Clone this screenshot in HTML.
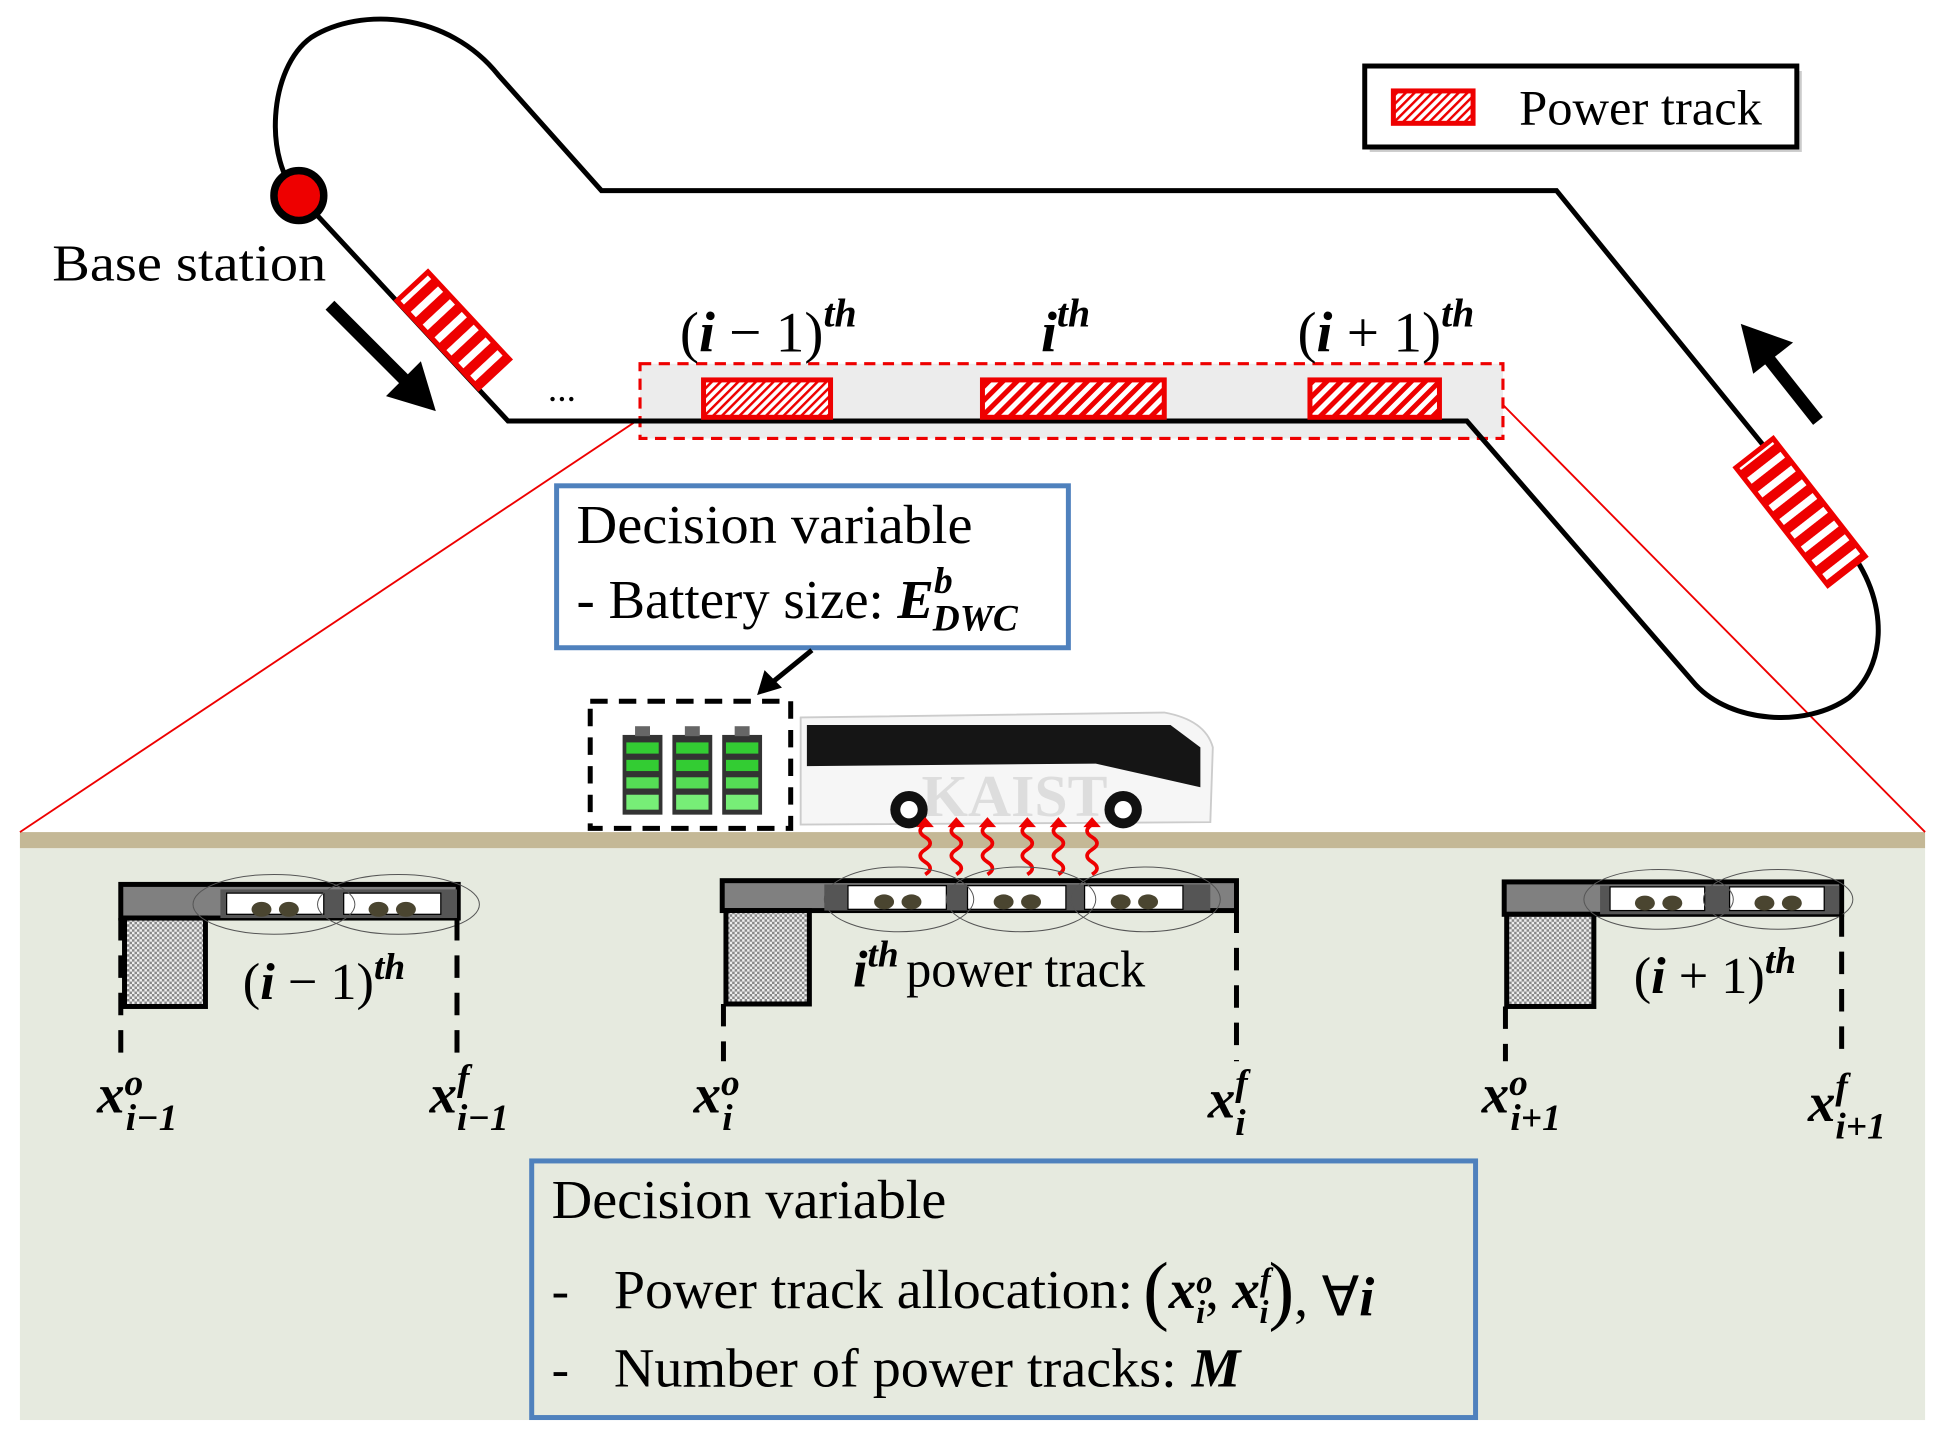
<!DOCTYPE html>
<html><head><meta charset="utf-8"><style>
html,body{margin:0;padding:0;background:#fff;width:1945px;height:1430px;overflow:hidden}
svg{display:block}
text{font-family:"Liberation Serif",serif}
.m{font-style:italic;font-weight:bold}
</style></head><body>
<svg width="1945" height="1430" viewBox="0 0 1562 1148" preserveAspectRatio="none" xmlns="http://www.w3.org/2000/svg">
<defs>
<pattern id="h" width="8" height="8" patternUnits="userSpaceOnUse" patternTransform="rotate(45)">
<rect width="8" height="8" fill="#fff"/><rect width="4" height="8" fill="#e00"/></pattern>
<pattern id="h2" width="5" height="5" patternUnits="userSpaceOnUse" patternTransform="rotate(45)">
<rect width="5" height="5" fill="#fff"/><rect width="2" height="5" fill="#e00"/></pattern>
<pattern id="hs" width="14" height="14" patternUnits="userSpaceOnUse">
<rect width="14" height="14" fill="#fff"/><rect width="8" height="14" fill="#e00"/></pattern>
<pattern id="ck" width="4" height="4" patternUnits="userSpaceOnUse">
<rect width="4" height="4" fill="#eee"/><rect width="2" height="2" fill="#888"/><rect x="2" y="2" width="2" height="2" fill="#888"/></pattern>
</defs>

<rect x="16" y="668" width="1530" height="13" fill="#c4b896"/>
<rect x="16" y="681" width="1530" height="459" fill="#e6eadf"/>

<line x1="514" y1="336" x2="16" y2="668" stroke="#e00" stroke-width="1.5"/>
<line x1="1207" y1="325" x2="1546" y2="668" stroke="#e00" stroke-width="1.5"/>

<rect x="514" y="292" width="693" height="60" fill="#ececec" stroke="#e00" stroke-width="2.5" stroke-dasharray="9,6"/>

<path d="M240 157 L408 338 L1178 338 L1362 550 C1390 580 1450 585 1485 560 C1520 530 1515 470 1475 430 L1250 153 L483 153 L400 60 C360 10 290 5 250 30 C215 55 212 130 240 157" fill="none" stroke="#000" stroke-width="4"/>
<circle cx="240" cy="157" r="20" fill="#e00" stroke="#000" stroke-width="6"/>
<text x="42" y="225" font-size="42" textLength="220" lengthAdjust="spacingAndGlyphs">Base station</text>

<g transform="translate(364,265) rotate(47)"><rect x="-48" y="-17" width="96" height="34" fill="url(#hs)" stroke="#e00" stroke-width="4"/></g>
<g transform="translate(1446,411) rotate(52)"><rect x="-60" y="-19" width="120" height="38" fill="url(#hs)" stroke="#e00" stroke-width="4"/></g>

<line x1="265" y1="245" x2="330" y2="310" stroke="#000" stroke-width="10"/>
<path d="M350 330 L310 318 L338 290 Z" fill="#000"/>
<line x1="1460" y1="338" x2="1418" y2="285" stroke="#000" stroke-width="10"/>
<path d="M1398 260 L1440 275 L1408 300 Z" fill="#000"/>

<text x="440" y="322" font-size="30">...</text>

<rect x="565" y="305" width="102" height="30" fill="url(#h2)" stroke="#e00" stroke-width="4"/>
<rect x="789" y="305" width="146" height="30" fill="url(#h)" stroke="#e00" stroke-width="4"/>
<rect x="1052" y="305" width="104" height="30" fill="url(#h)" stroke="#e00" stroke-width="4"/>

<text x="546" y="282" font-size="46">(<tspan class="m">i</tspan> − 1)<tspan class="m" font-size="32" dy="-20">th</tspan></text>
<text x="836" y="282" font-size="46"><tspan class="m">i</tspan><tspan class="m" font-size="32" dy="-20">th</tspan></text>
<text x="1042" y="282" font-size="46">(<tspan class="m">i</tspan> + 1)<tspan class="m" font-size="32" dy="-20">th</tspan></text>

<rect x="1100" y="57" width="347" height="65" fill="#999" opacity=".5"/>
<rect x="1096" y="53" width="347" height="65" fill="#fff" stroke="#000" stroke-width="4"/>
<rect x="1119" y="73" width="64" height="26" fill="url(#h2)" stroke="#e00" stroke-width="4"/>
<text x="1220" y="100" font-size="40" textLength="195" lengthAdjust="spacingAndGlyphs">Power track</text>

<rect x="447" y="390" width="411" height="130" fill="#fff" stroke="#4f81bd" stroke-width="4"/>
<text x="463" y="436" font-size="44" textLength="318" lengthAdjust="spacingAndGlyphs">Decision variable</text>
<text x="463" y="496" font-size="44">- Battery size: <tspan class="m">E</tspan><tspan class="m" font-size="30" dy="-20">b</tspan><tspan class="m" font-size="30" dx="-16" dy="30">DWC</tspan></text>
<line x1="652" y1="522" x2="620" y2="548" stroke="#000" stroke-width="4"/>
<path d="M608 558 L614 538 L628 552 Z" fill="#000"/>

<rect x="474" y="563" width="161" height="102" fill="#fff" stroke="#000" stroke-width="4" stroke-dasharray="14,9"/>
<g>
<rect x="500" y="590" width="32" height="64" fill="#333"/><rect x="510" y="583" width="12" height="8" fill="#666"/>
<rect x="503" y="596" width="26" height="9" fill="#3c3"/><rect x="503" y="610" width="26" height="9" fill="#3c3"/><rect x="503" y="624" width="26" height="9" fill="#5d5"/><rect x="503" y="638" width="26" height="12" fill="#7e7"/>
<rect x="540" y="590" width="32" height="64" fill="#333"/><rect x="550" y="583" width="12" height="8" fill="#666"/>
<rect x="543" y="596" width="26" height="9" fill="#3c3"/><rect x="543" y="610" width="26" height="9" fill="#3c3"/><rect x="543" y="624" width="26" height="9" fill="#5d5"/><rect x="543" y="638" width="26" height="12" fill="#7e7"/>
<rect x="580" y="590" width="32" height="64" fill="#333"/><rect x="590" y="583" width="12" height="8" fill="#666"/>
<rect x="583" y="596" width="26" height="9" fill="#3c3"/><rect x="583" y="610" width="26" height="9" fill="#3c3"/><rect x="583" y="624" width="26" height="9" fill="#5d5"/><rect x="583" y="638" width="26" height="12" fill="#7e7"/>
</g>

<path d="M643 576 L935 572 Q968 578 974 600 L972 660 L643 662 Z" fill="#f6f6f6" stroke="#ccc" stroke-width="1.5"/>
<path d="M648 582 L940 582 L964 600 L964 632 L880 613 L648 615 Z" fill="#151515"/>
<text x="740" y="655" font-size="48" font-weight="bold" fill="#ddd" font-family="Liberation Sans, sans-serif">KAIST</text>
<circle cx="730" cy="650" r="15" fill="#111"/><circle cx="730" cy="650" r="7" fill="#fff"/>
<circle cx="902" cy="650" r="15" fill="#111"/><circle cx="902" cy="650" r="7" fill="#fff"/>

<g fill="none" stroke="#e00" stroke-width="3">
<path d="M743 702 q8 -5 0 -10 q-8 -5 0 -10 q8 -5 0 -10 q-8 -5 0 -10"/>
<path d="M768 702 q8 -5 0 -10 q-8 -5 0 -10 q8 -5 0 -10 q-8 -5 0 -10"/>
<path d="M793 702 q8 -5 0 -10 q-8 -5 0 -10 q8 -5 0 -10 q-8 -5 0 -10"/>
<path d="M825 702 q8 -5 0 -10 q-8 -5 0 -10 q8 -5 0 -10 q-8 -5 0 -10"/>
<path d="M850 702 q8 -5 0 -10 q-8 -5 0 -10 q8 -5 0 -10 q-8 -5 0 -10"/>
<path d="M877 702 q8 -5 0 -10 q-8 -5 0 -10 q8 -5 0 -10 q-8 -5 0 -10"/>
</g>
<g fill="#e00"><path d="M736 664 l7 -8 l7 8z"/><path d="M761 664 l7 -8 l7 8z"/><path d="M786 664 l7 -8 l7 8z"/><path d="M818 664 l7 -8 l7 8z"/><path d="M843 664 l7 -8 l7 8z"/><path d="M870 664 l7 -8 l7 8z"/></g>

<g stroke="#000">
<rect x="97" y="710" width="271" height="27" fill="#808080" stroke-width="4"/>
<rect x="177" y="714" width="190" height="23" fill="#555" stroke="none"/>
<rect x="182" y="717" width="78" height="17" fill="#fff" stroke-width="1"/><rect x="276" y="717" width="78" height="17" fill="#fff" stroke-width="1"/>
<rect x="100" y="737" width="65" height="71" fill="url(#ck)" stroke-width="4"/>

<rect x="580" y="707" width="413" height="24" fill="#808080" stroke-width="4"/>
<rect x="662" y="710" width="310" height="21" fill="#555" stroke="none"/>
<rect x="681" y="711" width="79" height="19" fill="#fff" stroke-width="1"/><rect x="777" y="711" width="79" height="19" fill="#fff" stroke-width="1"/><rect x="871" y="711" width="79" height="19" fill="#fff" stroke-width="1"/>
<rect x="583" y="731" width="67" height="75" fill="url(#ck)" stroke-width="4"/>

<rect x="1208" y="708" width="271" height="26" fill="#808080" stroke-width="4"/>
<rect x="1285" y="711" width="192" height="23" fill="#555" stroke="none"/>
<rect x="1293" y="712" width="76" height="19" fill="#fff" stroke-width="1"/><rect x="1389" y="712" width="76" height="19" fill="#fff" stroke-width="1"/>
<rect x="1210" y="734" width="70" height="74" fill="url(#ck)" stroke-width="4"/>
</g>
<g fill="#4a4530">
<ellipse cx="210" cy="730" rx="8" ry="6"/><ellipse cx="232" cy="730" rx="8" ry="6"/><ellipse cx="304" cy="730" rx="8" ry="6"/><ellipse cx="326" cy="730" rx="8" ry="6"/>
<ellipse cx="710" cy="724" rx="8" ry="6"/><ellipse cx="732" cy="724" rx="8" ry="6"/><ellipse cx="806" cy="724" rx="8" ry="6"/><ellipse cx="828" cy="724" rx="8" ry="6"/><ellipse cx="900" cy="724" rx="8" ry="6"/><ellipse cx="922" cy="724" rx="8" ry="6"/>
<ellipse cx="1321" cy="725" rx="8" ry="6"/><ellipse cx="1343" cy="725" rx="8" ry="6"/><ellipse cx="1417" cy="725" rx="8" ry="6"/><ellipse cx="1439" cy="725" rx="8" ry="6"/>
</g>
<g fill="none" stroke="#555" stroke-width="0.8">
<ellipse cx="220" cy="726" rx="65" ry="24"/><ellipse cx="320" cy="726" rx="65" ry="24"/>
<ellipse cx="722" cy="722" rx="60" ry="26"/><ellipse cx="820" cy="722" rx="60" ry="26"/><ellipse cx="920" cy="722" rx="60" ry="26"/>
<ellipse cx="1332" cy="722" rx="60" ry="24"/><ellipse cx="1428" cy="722" rx="60" ry="24"/>
</g>
<g stroke="#000" stroke-width="4" stroke-dasharray="18,12">
<line x1="97" y1="737" x2="97" y2="852"/><line x1="367" y1="737" x2="367" y2="852"/>
<line x1="581" y1="806" x2="581" y2="852"/><line x1="993" y1="731" x2="993" y2="852"/>
<line x1="1209" y1="808" x2="1209" y2="852"/><line x1="1479" y1="734" x2="1479" y2="852"/>
</g>

<text x="195" y="802" font-size="42">(<tspan class="m">i</tspan> − 1)<tspan class="m" font-size="30" dy="-16">th</tspan></text>
<text x="685" y="792" font-size="42"><tspan class="m">i</tspan><tspan class="m" font-size="30" dy="-16">th</tspan><tspan dy="16" dx="6" textLength="192" lengthAdjust="spacingAndGlyphs">power track</tspan></text>
<text x="1312" y="797" font-size="42">(<tspan class="m">i</tspan> + 1)<tspan class="m" font-size="30" dy="-16">th</tspan></text>

<g font-size="44">
<text x="78" y="893"><tspan class="m">x</tspan><tspan class="m" font-size="30" dy="-14">o</tspan><tspan class="m" font-size="30" dx="-14" dy="28">i−1</tspan></text>
<text x="345" y="893"><tspan class="m">x</tspan><tspan class="m" font-size="30" dy="-18">f</tspan><tspan class="m" font-size="30" dx="-10" dy="32">i−1</tspan></text>
<text x="557" y="893"><tspan class="m">x</tspan><tspan class="m" font-size="30" dy="-14">o</tspan><tspan class="m" font-size="30" dx="-14" dy="28">i</tspan></text>
<text x="970" y="897"><tspan class="m">x</tspan><tspan class="m" font-size="30" dy="-18">f</tspan><tspan class="m" font-size="30" dx="-10" dy="32">i</tspan></text>
<text x="1190" y="893"><tspan class="m">x</tspan><tspan class="m" font-size="30" dy="-14">o</tspan><tspan class="m" font-size="30" dx="-14" dy="28">i+1</tspan></text>
<text x="1452" y="900"><tspan class="m">x</tspan><tspan class="m" font-size="30" dy="-18">f</tspan><tspan class="m" font-size="30" dx="-10" dy="32">i+1</tspan></text>
</g>

<rect x="427" y="932" width="758" height="206" fill="#e6eadf" stroke="#4f81bd" stroke-width="4"/>
<text x="443" y="978" font-size="44" textLength="317" lengthAdjust="spacingAndGlyphs">Decision variable</text>
<text x="443" y="1050" font-size="42">-</text>
<text x="493" y="1050" font-size="44"><tspan textLength="417" lengthAdjust="spacingAndGlyphs">Power track allocation:</tspan><tspan font-size="62" dy="6" dx="8">(</tspan><tspan class="m" dy="-6">x</tspan><tspan class="m" font-size="26" dy="-12">o</tspan><tspan class="m" font-size="26" dx="-13" dy="24">i</tspan><tspan dy="-12">,  </tspan><tspan class="m">x</tspan><tspan class="m" font-size="26" dy="-14">f</tspan><tspan class="m" font-size="26" dx="-9" dy="26">i</tspan><tspan font-size="62" dy="-6">)</tspan><tspan dy="0">, ∀</tspan><tspan class="m">i</tspan></text>
<text x="443" y="1113" font-size="42">-</text>
<text x="493" y="1113" font-size="44"><tspan textLength="452" lengthAdjust="spacingAndGlyphs">Number of power tracks:</tspan><tspan class="m" dx="12">M</tspan></text>
</svg>
</body></html>
